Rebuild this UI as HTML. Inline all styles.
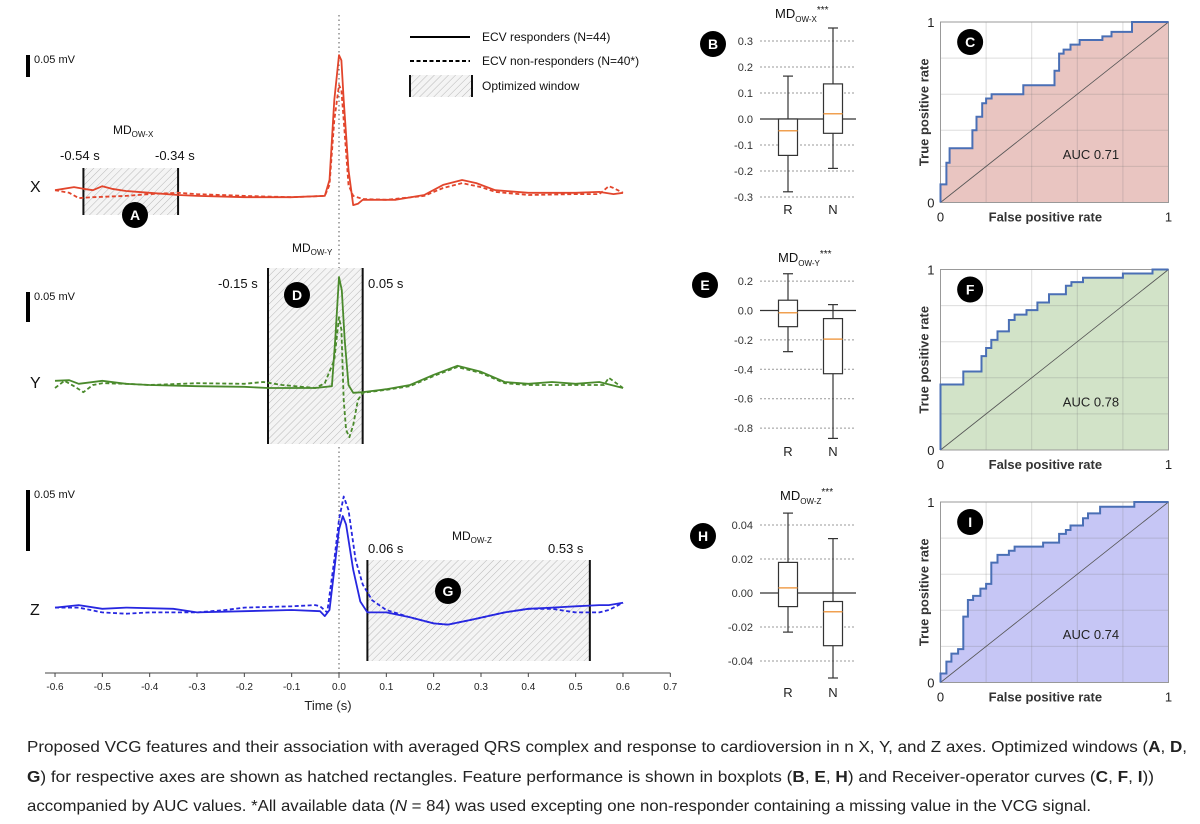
<!DOCTYPE html>
<html><head><meta charset="utf-8">
<style>
html,body{margin:0;padding:0;background:#fff;}
body{width:1200px;height:824px;overflow:hidden;position:relative;font-family:"Liberation Sans",sans-serif;}
svg{position:absolute;left:0;top:0;}
</style></head>
<body>
<svg id="fig" width="1200" height="824" viewBox="0 0 1200 824" xmlns="http://www.w3.org/2000/svg" font-family="Liberation Sans, sans-serif">
<defs>
<pattern id="hatch" patternUnits="userSpaceOnUse" width="5" height="5" patternTransform="rotate(45)">
<rect width="5" height="5" fill="#f4f4f4"/>
<line x1="0" y1="0" x2="0" y2="5" stroke="#b8b8b8" stroke-width="1"/>
</pattern>
</defs>
<g id="ecg"></g>
<g id="boxes"></g>
<g id="rocs"></g>
<g id="caption" font-size="16" fill="#222">
<text x="27" y="752" textLength="1160" lengthAdjust="spacingAndGlyphs">Proposed VCG features and their association with averaged QRS complex and response to cardioversion in n X, Y, and Z axes. Optimized windows (<tspan font-weight="bold">A</tspan>, <tspan font-weight="bold">D</tspan>,</text>
<text x="27" y="782" textLength="1127" lengthAdjust="spacingAndGlyphs"><tspan font-weight="bold">G</tspan>) for respective axes are shown as hatched rectangles. Feature performance is shown in boxplots (<tspan font-weight="bold">B</tspan>, <tspan font-weight="bold">E</tspan>, <tspan font-weight="bold">H</tspan>) and Receiver-operator curves (<tspan font-weight="bold">C</tspan>, <tspan font-weight="bold">F</tspan>, <tspan font-weight="bold">I</tspan>))</text>
<text x="27" y="811" textLength="1064" lengthAdjust="spacingAndGlyphs">accompanied by AUC values. *All available data (<tspan font-style="italic">N</tspan> = 84) was used excepting one non-responder containing a missing value in the VCG signal.</text>
</g>
</svg>
<script>
// ---------- ECG data (time in s, amplitude in µV) ----------
const timeTicks = [-0.6,-0.5,-0.4,-0.3,-0.2,-0.1,0.0,0.1,0.2,0.3,0.4,0.5,0.6,0.7];
const xRespT = [-0.6,-0.56,-0.54,-0.52,-0.5,-0.48,-0.45,-0.4,-0.34,-0.3,-0.2,-0.1,-0.03,-0.02,-0.01,0,0.005,0.01,0.02,0.03,0.04,0.05,0.08,0.12,0.18,0.22,0.26,0.29,0.33,0.4,0.5,0.55,0.58,0.6];
const xRespV = [11,18,14,11,20,14,9,5,0,-2,-5,-5,-2,34,216,318,306,216,57,-23,-20,-11,-11,-11,0,23,34,27,11,5,5,7,2,5];
const xNonT = [-0.6,-0.57,-0.55,-0.52,-0.45,-0.4,-0.34,-0.3,-0.2,-0.1,-0.03,-0.02,-0.01,0,0.005,0.01,0.02,0.03,0.05,0.1,0.18,0.22,0.26,0.3,0.33,0.4,0.5,0.55,0.57,0.58,0.6];
const xNonV = [11,5,-7,-5,-2,2,5,2,-2,-5,-2,23,170,250,238,170,23,-2,-9,-11,-2,16,27,18,7,0,2,2,20,16,5];
const yRespT = [-0.6,-0.57,-0.55,-0.5,-0.45,-0.4,-0.3,-0.2,-0.15,-0.05,-0.015,-0.008,0,0.006,0.012,0.02,0.03,0.05,0.1,0.15,0.2,0.25,0.3,0.35,0.4,0.45,0.5,0.55,0.6];
const yRespV = [12,13,7,12,7,5,3,2,0,0,3,80,185,163,80,5,-8,-7,-2,5,22,37,27,10,7,10,7,10,0];
const yNonT = [-0.6,-0.58,-0.56,-0.54,-0.52,-0.5,-0.45,-0.4,-0.3,-0.2,-0.16,-0.12,-0.05,-0.03,-0.01,0,0.005,0.01,0.015,0.022,0.03,0.04,0.05,0.1,0.15,0.2,0.25,0.3,0.35,0.4,0.5,0.56,0.57,0.6];
const yNonV = [0,12,3,-7,5,8,7,5,8,7,10,5,0,8,47,118,97,-20,-70,-82,-62,-20,-8,-3,3,20,35,25,8,5,5,5,17,0];
const zRespT = [-0.6,-0.55,-0.5,-0.45,-0.35,-0.3,-0.2,-0.1,-0.04,-0.03,-0.02,-0.01,0,0.008,0.015,0.03,0.045,0.06,0.1,0.15,0.2,0.23,0.28,0.35,0.4,0.45,0.5,0.55,0.57,0.6];
const zRespV = [2,4,1,2,1,-2,-1,0,-1,-5,0,33,66,77,70,33,7,-2,-2,-6,-11,-12,-8,-2,1,2,3,4,4,6];
const zNonT = [-0.6,-0.55,-0.5,-0.45,-0.4,-0.3,-0.24,-0.2,-0.1,-0.05,-0.04,-0.025,-0.01,0,0.01,0.02,0.035,0.05,0.07,0.1,0.15,0.2,0.23,0.28,0.35,0.4,0.45,0.5,0.55,0.57,0.6];
const zNonV = [2,2,-2,-3,-2,-2,0,2,3,4,3,-2,41,74,93,82,41,21,8,0,-6,-11,-12,-8,-2,1,1,-2,-2,0,6];
const windowStart = [-0.54,-0.15,0.06];
const windowEnd = [-0.34,0.05,0.53];

// ---------- Boxplot data [low, q1, median, q3, high] ----------
const boxXR = [-0.28,-0.14,-0.045,0.0,0.165];
const boxXN = [-0.19,-0.055,0.02,0.135,0.35];
const boxYR = [-0.28,-0.11,-0.015,0.07,0.25];
const boxYN = [-0.87,-0.43,-0.195,-0.055,0.04];
const boxZR = [-0.023,-0.008,0.003,0.018,0.047];
const boxZN = [-0.05,-0.031,-0.011,-0.005,0.032];
const ticksB = [0.3,0.2,0.1,0.0,-0.1,-0.2,-0.3];
const ticksE = [0.2,0.0,-0.2,-0.4,-0.6,-0.8];
const ticksH = [0.04,0.02,0.00,-0.02,-0.04];

// ---------- ROC data (step vertices) ----------
const rocCfpr = [0,0,0.026,0.026,0.04,0.04,0.14,0.14,0.158,0.158,0.183,0.183,0.2,0.2,0.224,0.224,0.363,0.363,0.5,0.5,0.52,0.52,0.54,0.54,0.57,0.57,0.61,0.61,0.71,0.71,0.75,0.75,0.84,0.84,1];
const rocCtpr = [0,0.10,0.10,0.22,0.22,0.30,0.30,0.40,0.40,0.475,0.475,0.55,0.55,0.576,0.576,0.60,0.60,0.65,0.65,0.73,0.73,0.825,0.825,0.847,0.847,0.875,0.875,0.90,0.90,0.92,0.92,0.945,0.945,1,1];
const rocFfpr = [0,0,0.1,0.1,0.18,0.18,0.2,0.2,0.223,0.223,0.25,0.25,0.3,0.3,0.325,0.325,0.377,0.377,0.425,0.425,0.476,0.476,0.55,0.55,0.574,0.574,0.625,0.625,0.8,0.8,0.93,0.93,1];
const rocFtpr = [0,0.363,0.363,0.435,0.435,0.52,0.52,0.565,0.565,0.61,0.61,0.657,0.657,0.72,0.72,0.75,0.75,0.775,0.775,0.817,0.817,0.863,0.863,0.91,0.91,0.93,0.93,0.954,0.954,0.978,0.978,1,1];
const rocIfpr = [0,0,0.026,0.026,0.048,0.048,0.077,0.077,0.1,0.1,0.12,0.12,0.143,0.143,0.175,0.175,0.2,0.2,0.223,0.223,0.25,0.25,0.3,0.3,0.325,0.325,0.45,0.45,0.52,0.52,0.55,0.55,0.57,0.57,0.625,0.625,0.647,0.647,0.7,0.7,0.85,0.85,1];
const rocItpr = [0,0.05,0.05,0.116,0.116,0.16,0.16,0.185,0.185,0.365,0.365,0.457,0.457,0.48,0.48,0.52,0.52,0.546,0.546,0.664,0.664,0.707,0.707,0.73,0.73,0.753,0.753,0.775,0.775,0.823,0.823,0.845,0.845,0.87,0.87,0.91,0.91,0.937,0.937,0.974,0.974,1,1];
const aucLabels = ["AUC 0.71","AUC 0.78","AUC 0.74"];

const NS = "http://www.w3.org/2000/svg";
function mk(parent, tag, attrs, text){
  const e = document.createElementNS(NS, tag);
  for (const k in attrs) e.setAttribute(k, attrs[k]);
  if (text !== undefined) e.textContent = text;
  parent.appendChild(e);
  return e;
}
const tx = t => 339 + t * 473.3;

const ecg = document.getElementById('ecg');
let zl = mk(ecg,'line',{x1:tx(0),x2:tx(0),y1:15,y2:680,stroke:'#555','stroke-width':1,'stroke-dasharray':'1.5,3'});



const panels = [
 {lab:'X',base:195,pxPerUv:22/50,color:'#e2452c',rT:xRespT,rV:xRespV,nT:xNonT,nV:xNonV,w:0,wy1:168,wy2:215,bar:[55,77],
  l1:[60,160],l2:[155,160],md:[113,134,'OW-X'],circ:[135,215,'A'],labY:192},
 {lab:'Y',base:388,pxPerUv:30/50,color:'#4a8a2c',rT:yRespT,rV:yRespV,nT:yNonT,nV:yNonV,w:1,wy1:268,wy2:444,bar:[292,322],
  l1:[218,288],l2:[368,288],md:[292,252,'OW-Y'],circ:[297,295,'D'],labY:388},
 {lab:'Z',base:610,pxPerUv:61/50,color:'#2727e0',rT:zRespT,rV:zRespV,nT:zNonT,nV:zNonV,w:2,wy1:560,wy2:661,bar:[490,551],
  l1:[368,553],l2:[548,553],md:[452,540,'OW-Z'],circ:[448,591,'G'],labY:615}
];
panels.forEach((p,i)=>{
  const g = mk(ecg,'g',{});
  
  
  const x1 = tx(windowStart[p.w]), x2 = tx(windowEnd[p.w]);
  const r = mk(g,'rect',{x:x1,y:p.wy1,width:x2-x1,height:p.wy2-p.wy1,fill:'url(#hatch)'});
  
  
  mk(g,'line',{x1:x1,x2:x1,y1:p.wy1,y2:p.wy2,stroke:'#111','stroke-width':2});
  mk(g,'line',{x1:x2,x2:x2,y1:p.wy1,y2:p.wy2,stroke:'#111','stroke-width':2});
  const path = (T,V)=>T.map((t,k)=>(k?'L':'M')+tx(t).toFixed(1)+','+(p.base - V[k]*p.pxPerUv).toFixed(1)).join(' ');
  const nl = mk(g,'path',{d:path(p.nT,p.nV),fill:'none',stroke:p.color,'stroke-width':1.8,'stroke-dasharray':'4,2.5','stroke-linejoin':'round'});
  
  
  const rl = mk(g,'path',{d:path(p.rT,p.rV),fill:'none',stroke:p.color,'stroke-width':1.8,'stroke-linejoin':'round'});
  
  
  const bar = mk(g,'rect',{x:26,y:p.bar[0],width:4,height:p.bar[1]-p.bar[0],fill:'#000'});
  
  
  const bl = mk(g,'text',{x:34,y:p.bar[0]+8,'font-size':11,fill:'#111'},'0.05 mV');
  
  
  const al = mk(g,'text',{x:30,y:p.labY,'font-size':16,fill:'#111'},p.lab);
  
  
  const f = v => (v<0?'-':'')+Math.abs(v).toFixed(2)+' s';
  mk(g,'text',{x:p.l1[0],y:p.l1[1],'font-size':13,fill:'#111'},f(windowStart[p.w]));
  mk(g,'text',{x:p.l2[0],y:p.l2[1],'font-size':13,fill:'#111'},f(windowEnd[p.w]));
  const md = mk(g,'text',{x:p.md[0],y:p.md[1],'font-size':12,fill:'#111'});
  
  
  mk(md,'tspan',{},'MD');
  mk(md,'tspan',{'font-size':8,dy:3},p.md[2]);
  const c = mk(g,'circle',{cx:p.circ[0],cy:p.circ[1],r:13,fill:'#000'});
  
  
  mk(g,'text',{x:p.circ[0],y:p.circ[1]+5,'font-size':14,'font-weight':'bold',fill:'#fff','text-anchor':'middle'},p.circ[2]);
});
// legend
const lg = mk(ecg,'g',{});


mk(lg,'line',{x1:410,x2:470,y1:37,y2:37,stroke:'#000','stroke-width':2});
mk(lg,'text',{x:482,y:41,'font-size':12,fill:'#111'},'ECV responders (N=44)');
mk(lg,'line',{x1:410,x2:470,y1:61,y2:61,stroke:'#000','stroke-width':2,'stroke-dasharray':'4,2.5'});
mk(lg,'text',{x:482,y:65,'font-size':12,fill:'#111'},'ECV non-responders (N=40*)');
mk(lg,'rect',{x:410,y:75,width:62,height:22,fill:'url(#hatch)'});
mk(lg,'line',{x1:410,x2:410,y1:75,y2:97,stroke:'#111','stroke-width':2});
mk(lg,'line',{x1:472,x2:472,y1:75,y2:97,stroke:'#111','stroke-width':2});
mk(lg,'text',{x:482,y:90,'font-size':12,fill:'#111'},'Optimized window');
// time axis
const ax = mk(ecg,'g',{});


mk(ax,'line',{x1:45,x2:tx(0.7),y1:673,y2:673,stroke:'#444','stroke-width':1});
timeTicks.forEach(t=>{
  mk(ax,'line',{x1:tx(t),x2:tx(t),y1:673,y2:677,stroke:'#444','stroke-width':1});
  const tl = mk(ax,'text',{x:tx(t),y:690,'font-size':10,fill:'#222','text-anchor':'middle'},t.toFixed(1));
  
  
});
const xt = mk(ax,'text',{x:328,y:710,'font-size':13,fill:'#222','text-anchor':'middle'},'Time (s)');



// ---------- Boxplots ----------
const boxesG = document.getElementById('boxes');
const bspecs = [
 {y0:119,k:260,ticks:ticksB,R:boxXR,N:boxXN,dec:1,title:[775,18,'OW-X'],circ:[713,44,'B'],rn:214},
 {y0:310.5,k:147,ticks:ticksE,R:boxYR,N:boxYN,dec:1,title:[778,262,'OW-Y'],circ:[705,285,'E'],rn:456},
 {y0:593,k:1700,ticks:ticksH,R:boxZR,N:boxZN,dec:2,title:[780,500,'OW-Z'],circ:[703,536,'H'],rn:697}
];
bspecs.forEach((b,i)=>{
  const g = mk(boxesG,'g',{});
  
  
  const yv = v => b.y0 - v*b.k;
  b.ticks.forEach(v=>{
    if (Math.abs(v)>1e-9) mk(g,'line',{x1:760,x2:854,y1:yv(v),y2:yv(v),stroke:'#999','stroke-width':1,'stroke-dasharray':'2,2'});
    const tl = mk(g,'text',{x:753,y:yv(v)+4,'font-size':11,fill:'#333','text-anchor':'end'},v.toFixed(b.dec));
    
    
  });
  mk(g,'line',{x1:760,x2:856,y1:yv(0),y2:yv(0),stroke:'#333','stroke-width':1.2});
  [[b.R,788,'R'],[b.N,833,'N']].forEach(([d,cx,nm])=>{
    const bg = mk(g,'g',{});
    
    
    mk(bg,'line',{x1:cx,x2:cx,y1:yv(d[4]),y2:yv(d[0]),stroke:'#333','stroke-width':1.2});
    mk(bg,'line',{x1:cx-5,x2:cx+5,y1:yv(d[4]),y2:yv(d[4]),stroke:'#333','stroke-width':1.2});
    mk(bg,'line',{x1:cx-5,x2:cx+5,y1:yv(d[0]),y2:yv(d[0]),stroke:'#333','stroke-width':1.2});
    mk(bg,'rect',{x:cx-9.5,y:yv(d[3]),width:19,height:yv(d[1])-yv(d[3]),fill:'#fff',stroke:'#333','stroke-width':1.2});
    mk(bg,'line',{x1:cx-9.5,x2:cx+9.5,y1:yv(d[2]),y2:yv(d[2]),stroke:'#f0a050','stroke-width':1.5});
    mk(g,'text',{x:cx,y:b.rn,'font-size':13,fill:'#222','text-anchor':'middle'},nm);
  });
  const t = mk(g,'text',{x:b.title[0],y:b.title[1],'font-size':13,fill:'#111'});
  
  
  mk(t,'tspan',{},'MD');
  mk(t,'tspan',{'font-size':8,dy:4},b.title[2]);
  mk(t,'tspan',{'font-size':10,dy:-9},'***');
  mk(g,'circle',{cx:b.circ[0],cy:b.circ[1],r:13,fill:'#000'});
  mk(g,'text',{x:b.circ[0],y:b.circ[1]+5,'font-size':14,'font-weight':'bold',fill:'#fff','text-anchor':'middle'},b.circ[2]);
});

// ---------- ROC ----------
const rocsG = document.getElementById('rocs');
const rspecs = [
 {top:22,fpr:rocCfpr,tpr:rocCtpr,fill:'#e9c5c1',circ:'C'},
 {top:269.5,fpr:rocFfpr,tpr:rocFtpr,fill:'#d2e3c8',circ:'F'},
 {top:502,fpr:rocIfpr,tpr:rocItpr,fill:'#c6c6f5',circ:'I'}
];
rspecs.forEach((r,i)=>{
  const L=940.5, W=228, H=180.5, T=r.top;
  const sx = v => L + v*W, sy = v => T + H - v*H;
  const g = mk(rocsG,'g',{});
  
  
  mk(g,'rect',{x:L,y:T,width:W,height:H,fill:'#fff'});
  const area = r.fpr.map((f,k)=>(k?'L':'M')+sx(f).toFixed(1)+','+sy(r.tpr[k]).toFixed(1)).join(' ') + ` L${sx(1)},${sy(0)} Z`;
  const a = mk(g,'path',{d:area,fill:r.fill});
  
  
  for (let q=1;q<5;q++){
    mk(g,'line',{x1:sx(q/5),x2:sx(q/5),y1:T,y2:T+H,stroke:'rgba(120,120,120,0.25)','stroke-width':1});
    mk(g,'line',{x1:L,x2:L+W,y1:sy(q/5),y2:sy(q/5),stroke:'rgba(120,120,120,0.25)','stroke-width':1});
  }
  mk(g,'line',{x1:sx(0),y1:sy(0),x2:sx(1),y2:sy(1),stroke:'#555','stroke-width':0.8});
  mk(g,'rect',{x:L,y:T,width:W,height:H,fill:'none',stroke:'#999','stroke-width':1});
  const line = mk(g,'path',{d:r.fpr.map((f,k)=>(k?'L':'M')+sx(f).toFixed(1)+','+sy(r.tpr[k]).toFixed(1)).join(' '),fill:'none',stroke:'#4a6fb5','stroke-width':2});
  
  
  mk(g,'text',{x:sx(0)-6,y:sy(0)+5,'font-size':13,fill:'#222','text-anchor':'end'},'0');
  mk(g,'text',{x:sx(0)-6,y:sy(1)+5,'font-size':13,fill:'#222','text-anchor':'end'},'1');
  mk(g,'text',{x:sx(0),y:T+H+19,'font-size':13,fill:'#222','text-anchor':'middle'},'0');
  mk(g,'text',{x:sx(1),y:T+H+19,'font-size':13,fill:'#222','text-anchor':'middle'},'1');
  const xl = mk(g,'text',{x:sx(0.46),y:T+H+19,'font-size':13,'font-weight':'bold',fill:'#333','text-anchor':'middle'},'False positive rate');
  
  
  const yl = mk(g,'text',{x:0,y:0,'font-size':13,'font-weight':'bold',fill:'#333','text-anchor':'middle',transform:`translate(${L-12},${T+H/2}) rotate(-90)`},'True positive rate');
  
  
  const au = mk(g,'text',{x:sx(0.66),y:sy(0.24),'font-size':13,fill:'#222','text-anchor':'middle'},aucLabels[i]);
  
  
  mk(g,'circle',{cx:sx(0.13),cy:T+20,r:13,fill:'#000'});
  mk(g,'text',{x:sx(0.13),y:T+25,'font-size':14,'font-weight':'bold',fill:'#fff','text-anchor':'middle'},r.circ);
});
</script>
</body></html>
